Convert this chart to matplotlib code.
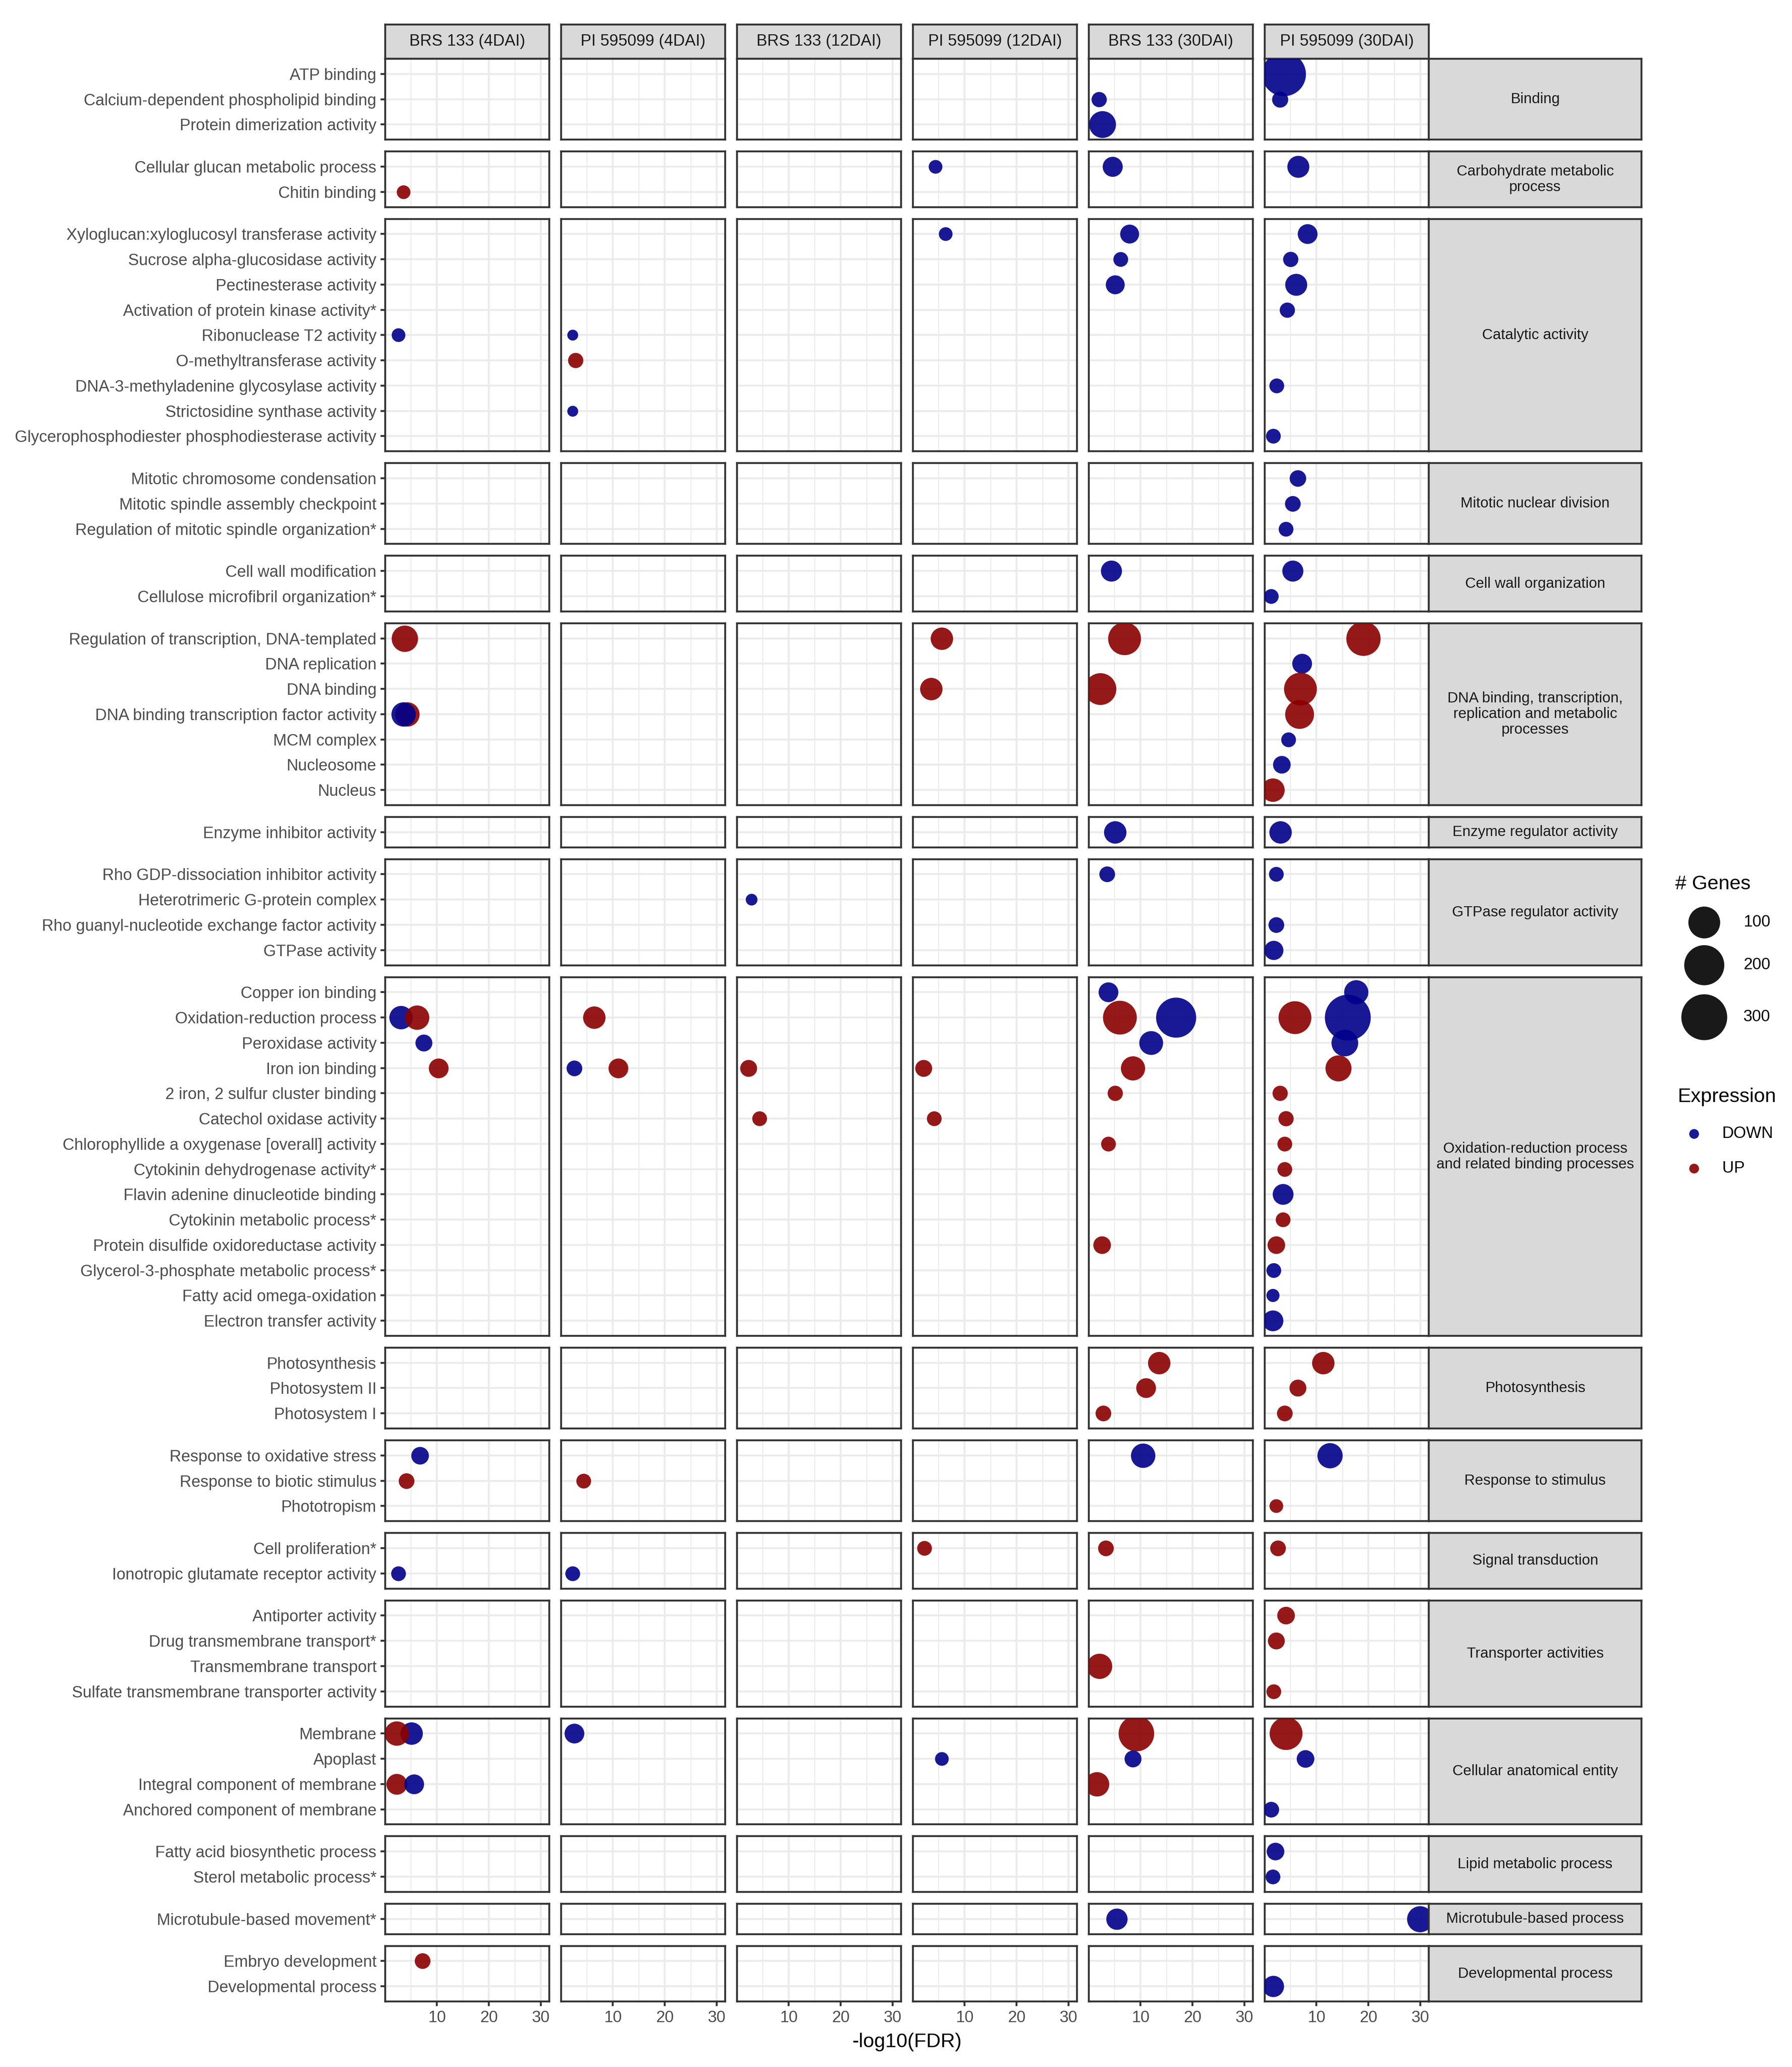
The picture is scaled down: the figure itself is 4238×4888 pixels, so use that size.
import matplotlib.pyplot as plt

plt.rcParams['font.family'] = ['Liberation Sans', 'DejaVu Sans']

# column facets
samples = ["BRS 133 (4DAI)", "PI 595099 (4DAI)", "BRS 133 (12DAI)",
           "PI 595099 (12DAI)", "BRS 133 (30DAI)", "PI 595099 (30DAI)"]

# row facets (GO groups) and their terms, top to bottom
groups = ["Binding", "Carbohydrate metabolic\nprocess", "Catalytic activity",
          "Mitotic nuclear division", "Cell wall organization",
          "DNA binding, transcription,\nreplication and metabolic\nprocesses",
          "Enzyme regulator activity", "GTPase regulator activity",
          "Oxidation-reduction process\nand related binding processes",
          "Photosynthesis", "Response to stimulus", "Signal transduction",
          "Transporter activities", "Cellular anatomical entity",
          "Lipid metabolic process", "Microtubule-based process",
          "Developmental process"]

group_terms = [
    ["ATP binding", "Calcium-dependent phospholipid binding", "Protein dimerization activity"],
    ["Cellular glucan metabolic process", "Chitin binding"],
    ["Xyloglucan:xyloglucosyl transferase activity", "Sucrose alpha-glucosidase activity",
     "Pectinesterase activity", "Activation of protein kinase activity*",
     "Ribonuclease T2 activity", "O-methyltransferase activity",
     "DNA-3-methyladenine glycosylase activity", "Strictosidine synthase activity",
     "Glycerophosphodiester phosphodiesterase activity"],
    ["Mitotic chromosome condensation", "Mitotic spindle assembly checkpoint",
     "Regulation of mitotic spindle organization*"],
    ["Cell wall modification", "Cellulose microfibril organization*"],
    ["Regulation of transcription, DNA-templated", "DNA replication", "DNA binding",
     "DNA binding transcription factor activity", "MCM complex", "Nucleosome", "Nucleus"],
    ["Enzyme inhibitor activity"],
    ["Rho GDP-dissociation inhibitor activity", "Heterotrimeric G-protein complex",
     "Rho guanyl-nucleotide exchange factor activity", "GTPase activity"],
    ["Copper ion binding", "Oxidation-reduction process", "Peroxidase activity",
     "Iron ion binding", "2 iron, 2 sulfur cluster binding", "Catechol oxidase activity",
     "Chlorophyllide a oxygenase [overall] activity", "Cytokinin dehydrogenase activity*",
     "Flavin adenine dinucleotide binding", "Cytokinin metabolic process*",
     "Protein disulfide oxidoreductase activity", "Glycerol-3-phosphate metabolic process*",
     "Fatty acid omega-oxidation", "Electron transfer activity"],
    ["Photosynthesis", "Photosystem II", "Photosystem I"],
    ["Response to oxidative stress", "Response to biotic stimulus", "Phototropism"],
    ["Cell proliferation*", "Ionotropic glutamate receptor activity"],
    ["Antiporter activity", "Drug transmembrane transport*", "Transmembrane transport",
     "Sulfate transmembrane transporter activity"],
    ["Membrane", "Apoplast", "Integral component of membrane", "Anchored component of membrane"],
    ["Fatty acid biosynthetic process", "Sterol metabolic process*"],
    ["Microtubule-based movement*"],
    ["Embryo development", "Developmental process"],
]

# (term, expression, -log10(FDR), number of genes) per sample
brs_4dai = [
    ("Chitin binding", "UP", 3.6, 8),
    ("Ribonuclease T2 activity", "DOWN", 2.6, 8),
    ("Regulation of transcription, DNA-templated", "UP", 3.8, 57),
    ("DNA binding transcription factor activity", "UP", 4.3, 45),
    ("DNA binding transcription factor activity", "DOWN", 3.6, 45),
    ("Oxidation-reduction process", "DOWN", 3.1, 40),
    ("Oxidation-reduction process", "UP", 6.2, 45),
    ("Peroxidase activity", "DOWN", 7.5, 15),
    ("Iron ion binding", "UP", 10.3, 24),
    ("Response to oxidative stress", "DOWN", 6.7, 17),
    ("Response to biotic stimulus", "UP", 4.1, 12),
    ("Ionotropic glutamate receptor activity", "DOWN", 2.6, 10),
    ("Membrane", "DOWN", 5.1, 35),
    ("Membrane", "UP", 2.3, 45),
    ("Integral component of membrane", "UP", 2.3, 28),
    ("Integral component of membrane", "DOWN", 5.6, 24),
    ("Embryo development", "UP", 7.2, 12),
]

pi_4dai = [
    ("Ribonuclease T2 activity", "DOWN", 2.3, 4),
    ("O-methyltransferase activity", "UP", 2.85, 11),
    ("Strictosidine synthase activity", "DOWN", 2.3, 4),
    ("Oxidation-reduction process", "UP", 6.4, 35),
    ("Iron ion binding", "DOWN", 2.6, 12),
    ("Iron ion binding", "UP", 11.0, 24),
    ("Response to biotic stimulus", "UP", 4.4, 10),
    ("Ionotropic glutamate receptor activity", "DOWN", 2.3, 10),
    ("Membrane", "DOWN", 2.6, 24),
]

brs_12dai = [
    ("Heterotrimeric G-protein complex", "DOWN", 2.8, 5),
    ("Iron ion binding", "UP", 2.3, 15),
    ("Catechol oxidase activity", "UP", 4.4, 10),
]

pi_12dai = [
    ("Cellular glucan metabolic process", "DOWN", 4.4, 8),
    ("Xyloglucan:xyloglucosyl transferase activity", "DOWN", 6.3, 8),
    ("Regulation of transcription, DNA-templated", "UP", 5.6, 35),
    ("DNA binding", "UP", 3.6, 35),
    ("Iron ion binding", "UP", 2.1, 15),
    ("Catechol oxidase activity", "UP", 4.1, 10),
    ("Cell proliferation*", "UP", 2.3, 10),
    ("Apoplast", "DOWN", 5.6, 8),
]

brs_30dai = [
    ("Calcium-dependent phospholipid binding", "DOWN", 2.0, 11),
    ("Protein dimerization activity", "DOWN", 2.7, 60),
    ("Cellular glucan metabolic process", "DOWN", 4.6, 25),
    ("Xyloglucan:xyloglucosyl transferase activity", "DOWN", 7.9, 21),
    ("Sucrose alpha-glucosidase activity", "DOWN", 6.2, 10),
    ("Pectinesterase activity", "DOWN", 5.1, 21),
    ("Cell wall modification", "DOWN", 4.4, 29),
    ("Regulation of transcription, DNA-templated", "UP", 6.9, 110),
    ("DNA binding", "UP", 2.3, 100),
    ("Enzyme inhibitor activity", "DOWN", 5.1, 35),
    ("Rho GDP-dissociation inhibitor activity", "DOWN", 3.6, 12),
    ("Copper ion binding", "DOWN", 3.8, 24),
    ("Oxidation-reduction process", "UP", 6.0, 120),
    ("Oxidation-reduction process", "DOWN", 16.8, 200),
    ("Peroxidase activity", "DOWN", 12.0, 42),
    ("Iron ion binding", "UP", 8.5, 44),
    ("2 iron, 2 sulfur cluster binding", "UP", 5.1, 11),
    ("Chlorophyllide a oxygenase [overall] activity", "UP", 3.8, 10),
    ("Protein disulfide oxidoreductase activity", "UP", 2.6, 17),
    ("Photosynthesis", "UP", 13.6, 35),
    ("Photosystem II", "UP", 11.0, 24),
    ("Photosystem I", "UP", 2.8, 12),
    ("Response to oxidative stress", "DOWN", 10.5, 45),
    ("Cell proliferation*", "UP", 3.3, 12),
    ("Transmembrane transport", "UP", 2.1, 50),
    ("Membrane", "UP", 9.2, 140),
    ("Apoplast", "DOWN", 8.5, 15),
    ("Integral component of membrane", "UP", 1.6, 45),
    ("Microtubule-based movement*", "DOWN", 5.4, 30),
]

pi_30dai = [
    ("ATP binding", "DOWN", 3.7, 264),
    ("Calcium-dependent phospholipid binding", "DOWN", 3.0, 13),
    ("Cellular glucan metabolic process", "DOWN", 6.5, 33),
    ("Xyloglucan:xyloglucosyl transferase activity", "DOWN", 8.3, 24),
    ("Sucrose alpha-glucosidase activity", "DOWN", 5.0, 11),
    ("Pectinesterase activity", "DOWN", 6.1, 33),
    ("Activation of protein kinase activity*", "DOWN", 4.4, 11),
    ("DNA-3-methyladenine glycosylase activity", "DOWN", 2.35, 10),
    ("Glycerophosphodiester phosphodiesterase activity", "DOWN", 1.7, 10),
    ("Mitotic chromosome condensation", "DOWN", 6.4, 14),
    ("Mitotic spindle assembly checkpoint", "DOWN", 5.4, 12),
    ("Regulation of mitotic spindle organization*", "DOWN", 4.1, 10),
    ("Cell wall modification", "DOWN", 5.4, 29),
    ("Cellulose microfibril organization*", "DOWN", 1.3, 10),
    ("Regulation of transcription, DNA-templated", "UP", 19.0, 125),
    ("DNA replication", "DOWN", 7.2, 24),
    ("DNA binding", "UP", 6.9, 110),
    ("DNA binding transcription factor activity", "UP", 6.7, 75),
    ("MCM complex", "DOWN", 4.6, 10),
    ("Nucleosome", "DOWN", 3.3, 17),
    ("Nucleus", "UP", 1.6, 40),
    ("Enzyme inhibitor activity", "DOWN", 3.1, 35),
    ("Rho GDP-dissociation inhibitor activity", "DOWN", 2.3, 10),
    ("Rho guanyl-nucleotide exchange factor activity", "DOWN", 2.3, 12),
    ("GTPase activity", "DOWN", 1.8, 22),
    ("Copper ion binding", "DOWN", 17.6, 44),
    ("Oxidation-reduction process", "UP", 5.8, 110),
    ("Oxidation-reduction process", "DOWN", 16.0, 300),
    ("Peroxidase activity", "DOWN", 15.4, 59),
    ("Iron ion binding", "UP", 14.2, 55),
    ("2 iron, 2 sulfur cluster binding", "UP", 3.0, 11),
    ("Catechol oxidase activity", "UP", 4.1, 11),
    ("Chlorophyllide a oxygenase [overall] activity", "UP", 3.9, 10),
    ("Cytokinin dehydrogenase activity*", "UP", 3.9, 10),
    ("Flavin adenine dinucleotide binding", "DOWN", 3.6, 28),
    ("Cytokinin metabolic process*", "UP", 3.6, 10),
    ("Protein disulfide oxidoreductase activity", "UP", 2.3, 17),
    ("Glycerol-3-phosphate metabolic process*", "DOWN", 1.8, 10),
    ("Fatty acid omega-oxidation", "DOWN", 1.6, 7),
    ("Electron transfer activity", "DOWN", 1.6, 28),
    ("Photosynthesis", "UP", 11.3, 35),
    ("Photosystem II", "UP", 6.4, 15),
    ("Photosystem I", "UP", 3.9, 12),
    ("Response to oxidative stress", "DOWN", 12.6, 50),
    ("Phototropism", "UP", 2.3, 8),
    ("Cell proliferation*", "UP", 2.6, 12),
    ("Antiporter activity", "UP", 4.1, 17),
    ("Drug transmembrane transport*", "UP", 2.3, 15),
    ("Sulfate transmembrane transporter activity", "UP", 1.8, 10),
    ("Membrane", "UP", 4.1, 110),
    ("Apoplast", "DOWN", 7.9, 17),
    ("Anchored component of membrane", "DOWN", 1.3, 12),
    ("Fatty acid biosynthetic process", "DOWN", 2.1, 17),
    ("Sterol metabolic process*", "DOWN", 1.6, 10),
    ("Microtubule-based movement*", "DOWN", 29.9, 55),
    ("Developmental process", "DOWN", 1.7, 30),
]

sample_data = [brs_4dai, pi_4dai, brs_12dai, pi_12dai, brs_30dai, pi_30dai]
size_breaks = [100, 200, 300]
expr_colors = {"DOWN": "#00008B", "UP": "#8B0000"}

DPI = 300
W, H = 4238, 4888


def marker_area(n):
    # circle diameter in pixels grows with cube root of gene count
    d_px = 16.2 * n ** (1 / 3)
    return (d_px * 72 / DPI) ** 2


fig = plt.figure(figsize=(W / DPI, H / DPI), dpi=DPI)


def px_axes(x, y, w, h):
    return fig.add_axes([x / W, 1 - (y + h) / H, w / W, h / H])


# layout in pixels
left0, panel_w, col_gap = 911, 388, 28
top_strip_y, top_strip_h = 58, 81
unit, row_gap = 59.74, 28
right_strip_w = 503
grey20, grey30, grey10 = "#333333", "#4D4D4D", "#1A1A1A"
lw = 1.07
fs = 9.2

term_row = {}
for gi, terms in enumerate(group_terms):
    for ti, t in enumerate(terms):
        term_row[t] = (gi, ti)

# top strips
for ci, s in enumerate(samples):
    x = left0 + ci * (panel_w + col_gap)
    sax = px_axes(x, top_strip_y, panel_w, top_strip_h)
    sax.set_facecolor("#D9D9D9")
    sax.set_xticks([]); sax.set_yticks([])
    for sp in sax.spines.values():
        sp.set_color(grey20); sp.set_linewidth(lw)
    sax.text(0.5, 0.5, s, ha="center", va="center", fontsize=fs,
             color=grey10, transform=sax.transAxes)

y = top_strip_y + top_strip_h
right_x = left0 + 6 * panel_w + 5 * col_gap
for gi, terms in enumerate(group_terms):
    n = len(terms)
    h = (n + 0.2) * unit
    for ci in range(6):
        x = left0 + ci * (panel_w + col_gap)
        ax = px_axes(x, y, panel_w, h)
        ax.set_xlim(0.07, 31.6)
        ax.set_ylim(n - 1 + 0.6, -0.6)
        ax.set_xticks([10, 20, 30])
        ax.set_xticks([5, 15, 25], minor=True)
        ax.set_yticks(range(n))
        ax.set_yticklabels(terms)
        ax.set_axisbelow(True)
        ax.grid(which="major", color="#EBEBEB", linewidth=lw)
        ax.grid(which="minor", axis="x", color="#EBEBEB", linewidth=lw / 2)
        ax.tick_params(which="minor", length=0)
        ax.tick_params(which="major", length=2.75, width=lw, color=grey20,
                       labelsize=fs, labelcolor=grey30, pad=2.2)
        ax.tick_params(axis="y", left=(ci == 0), labelleft=(ci == 0))
        last = gi == len(group_terms) - 1
        ax.tick_params(axis="x", bottom=last, labelbottom=last)
        for sp in ax.spines.values():
            sp.set_color(grey20); sp.set_linewidth(lw)

        pts = [p for p in sample_data[ci] if term_row[p[0]][0] == gi]
        for term, expr, fdr, genes in pts:
            ax.scatter([fdr], [term_row[term][1]], s=marker_area(genes),
                       color=expr_colors[expr], alpha=0.9, linewidths=0, zorder=3)

    # right strip
    rax = px_axes(right_x, y, right_strip_w, h)
    rax.set_facecolor("#D9D9D9")
    rax.set_xticks([]); rax.set_yticks([])
    for sp in rax.spines.values():
        sp.set_color(grey20); sp.set_linewidth(lw)
    rax.text(0.5, 0.5, groups[gi], ha="center", va="center", fontsize=8.4,
             color=grey10, linespacing=1.15, transform=rax.transAxes)
    y += h + row_gap

fig.text(2145 / W, 1 - 4829 / H, "-log10(FDR)", ha="center", va="center", fontsize=11.3)

# legends
lax = fig.add_axes([0, 0, 1, 1])
lax.set_xlim(0, W); lax.set_ylim(H, 0)
lax.axis("off")
lax.text(3962, 2091, "# Genes", ha="left", va="center", fontsize=11.3)
for b, ly in zip(size_breaks, [2181, 2282, 2405]):
    lax.scatter([4030], [ly], s=marker_area(b), color="black", alpha=0.9, linewidths=0)
    lax.text(4123, ly, str(b), ha="left", va="center", fontsize=fs)
lax.text(3967, 2594, "Expression", ha="left", va="center", fontsize=11.3)
for lab, ly in zip(["DOWN", "UP"], [2681, 2763]):
    lax.scatter([4006], [ly], s=(23 * 72 / DPI) ** 2, color=expr_colors[lab],
                alpha=0.9, linewidths=0)
    lax.text(4073, ly, lab, ha="left", va="center", fontsize=fs)

fig.savefig("out.png", dpi=DPI)
